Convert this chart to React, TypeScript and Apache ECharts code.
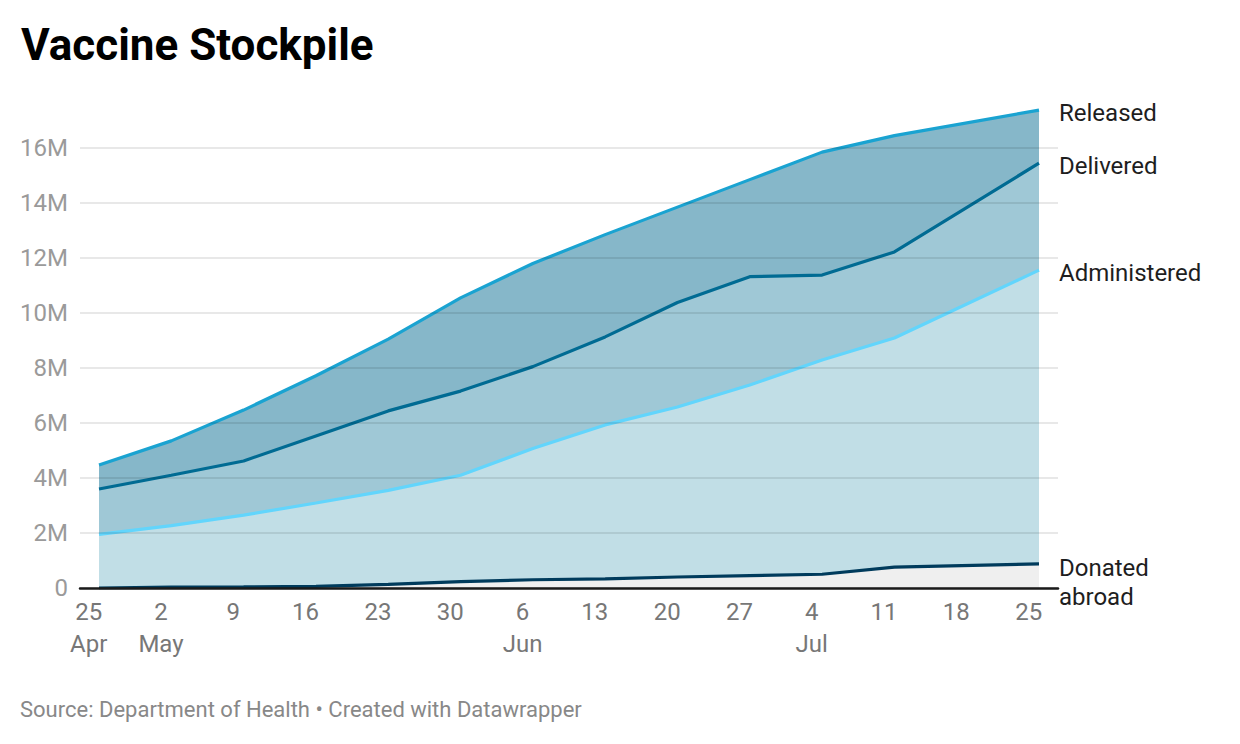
import React, { useEffect, useRef } from "react";
import * as echarts from "echarts";

// Weekly readings (millions of doses)
const dates = [
  "2021-04-26", "2021-05-03", "2021-05-10", "2021-05-17", "2021-05-24", "2021-05-31",
  "2021-06-07", "2021-06-14", "2021-06-21", "2021-06-28", "2021-07-05", "2021-07-12", "2021-07-26",
];
const released = [4.47, 5.35, 6.47, 7.72, 9.05, 10.55, 11.8, 12.85, 13.85, 14.85, 15.85, 16.45, 17.38];
const delivered = [3.6, 4.1, 4.62, 5.53, 6.44, 7.16, 8.05, 9.13, 10.38, 11.32, 11.38, 12.22, 15.45];
const administered = [1.95, 2.27, 2.65, 3.09, 3.55, 4.1, 5.07, 5.93, 6.58, 7.38, 8.29, 9.09, 11.56];
const donated = [0, 0.03, 0.04, 0.06, 0.13, 0.23, 0.3, 0.33, 0.4, 0.45, 0.5, 0.76, 0.88];

// X axis ticks: days after 25 Apr 2021
const axisStart = "2021-04-25";
const tickDays = [0, 7, 14, 21, 28, 35, 42, 49, 56, 63, 70, 77, 84, 91];
const tickLabels = ["25\nApr", "2\nMay", "9", "16", "23", "30", "6\nJun", "13", "20", "27", "4\nJul", "11", "18", "25"];

const seriesNames = ["Released", "Delivered", "Administered", "Donated abroad"];
const endLabelTexts = ["Released", "Delivered", "Administered", "Donated\nabroad"];

const titleText = "Vaccine Stockpile";
const sourceText = "Source: Department of Health \u2022 Created with Datawrapper";

const lineColors = ["#1aa3d1", "#006b93", "#62d5fc", "#003b5c"];
const fillColors = ["#86b7c9", "#9fc8d6", "#c1dee6", "#efefef"];

const DAY = 86400000;
const base = Date.parse(axisStart + "T00:00:00Z");
const dayOf = (s: string) => Math.round((Date.parse(s + "T00:00:00Z") - base) / DAY);

export default function App() {
  const ref = useRef<HTMLDivElement>(null);

  useEffect(() => {
    if (!ref.current) return;
    const chart = echarts.init(ref.current, undefined, { renderer: "svg" });
    const valueSets = [released, delivered, administered, donated];
    const FONT = "Roboto";

    const series = valueSets.map((vals, i) => ({
      type: "line",
      name: seriesNames[i],
      data: dates.map((d, j) => [dayOf(d), vals[j]]),
      symbol: "none",
      smooth: false,
      z: 2,
      lineStyle: { color: lineColors[i], width: 3.2 },
      itemStyle: { color: lineColors[i] },
      areaStyle: { color: fillColors[i], opacity: 1 },
      endLabel: {
        show: true,
        formatter: endLabelTexts[i],
        color: "#1e1e1e",
        fontFamily: FONT,
        fontSize: 24,
        lineHeight: 29,
        distance: 20,
        ...(i === 3
          ? { verticalAlign: "top", offset: [0, -10] }
          : { offset: [0, 3] }),
      },
    }));

    chart.setOption({
      animation: false,
      textStyle: { fontFamily: FONT },
      title: {
        text: titleText,
        left: 16,
        top: 18,
        textStyle: { fontFamily: FONT, fontSize: 44, fontWeight: "bold", color: "#000" },
      },
      grid: { left: 80, right: 182, top: 93, bottom: 156, containLabel: false },
      xAxis: {
        type: "value",
        min: -0.84,
        max: 93.84,
        z: 4,
        axisLine: { show: true, onZero: false, lineStyle: { color: "#1a1a1a", width: 2.5 } },
        axisTick: { show: false },
        splitLine: { show: false },
        axisLabel: {
          customValues: tickDays,
          formatter: (v: number) => {
            const idx = tickDays.indexOf(Math.round(v));
            return idx >= 0 ? tickLabels[idx] : "";
          },
          color: "#777",
          fontSize: 24,
          lineHeight: 32,
          margin: 8,
          fontFamily: FONT,
          verticalAlign: "top",
        },
      },
      yAxis: {
        type: "value",
        min: 0,
        max: 18,
        interval: 2,
        z: 3,
        axisLine: { show: false },
        axisTick: { show: false },
        splitLine: {
          show: true,
          showMaxLine: false,
          lineStyle: { color: "rgba(0,0,0,0.09)", width: 2 },
        },
        axisLabel: {
          showMaxLabel: false,
          formatter: (v: number) => (v === 0 ? "0" : v + "M"),
          color: "#9a9a9a",
          fontSize: 24,
          margin: 12,
          fontFamily: FONT,
        },
      },
      graphic: [
        {
          type: "text",
          left: 20,
          top: 698,
          style: { text: sourceText, fill: "#888", fontSize: 22, fontFamily: FONT },
        },
      ],
      series,
    });

    return () => chart.dispose();
  }, []);

  return (
    <div
      ref={ref}
      style={{ position: "fixed", left: 0, top: 0, width: 1240, height: 744, background: "#fff" }}
    />
  );
}
